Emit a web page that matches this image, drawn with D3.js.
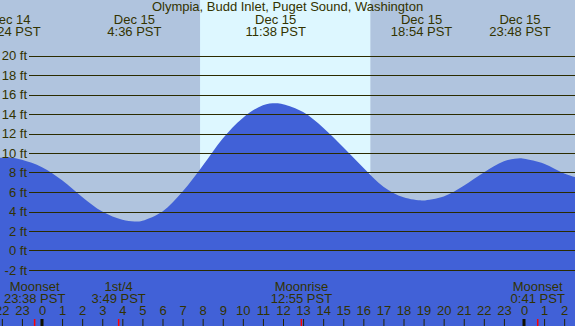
<!DOCTYPE html>
<html>
<head>
<meta charset="utf-8">
<script src="https://cdn.jsdelivr.net/npm/d3@7"></script>
<style>
  body { margin: 0; }
  text { font-family: "Liberation Sans", Arial, sans-serif; }
</style>
</head>
<body>
<script>
// tide chart for one day, hours counted from Dec 15 0:00

let width = 575;
let height = 326;

let title = "Olympia, Budd Inlet, Puget Sound, Washington";

// tide height (hour, ft)
let tideHours = [-2.1, -1.6, -1, 0, 1, 2, 3, 4, 4.6, 5, 6, 7, 8, 9, 10, 11, 11.63, 12, 13, 14, 15, 16, 17, 18, 18.9, 19, 20, 21, 22, 23, 23.8, 24, 25, 26, 26.6];
let tideFeet = [9.5, 9.55, 9.3, 8.55, 7.2, 5.5, 4.0, 3.15, 2.97, 3.05, 4.0, 6.05, 8.7, 11.5, 13.6, 14.9, 15.1, 15.0, 14.2, 12.6, 10.6, 8.5, 6.55, 5.45, 5.12, 5.13, 5.55, 6.65, 8.0, 9.15, 9.45, 9.4, 8.9, 7.9, 7.5];

// highs and lows
let extremeHours = [-1.6, 4.6, 11.633, 18.9, 23.8];
let extremeDays = ["Dec 14", "Dec 15", "Dec 15", "Dec 15", "Dec 15"];
let extremeTimes = ["22:24 PST", "4:36 PST", "11:38 PST", "18:54 PST", "23:48 PST"];

// daylight
let sunrise = 7.87;
let sunset = 16.35;

// moon
let moonHours = [-0.367, 3.817, 12.917, 24.683];
let moonNames = ["Moonset", "1st/4", "Moonrise", "Moonset"];
let moonTimes = ["23:38 PST", "3:49 PST", "12:55 PST", "0:41 PST"];

let feetTicks = d3.range(-2, 21, 2);
let hourTicks = d3.range(-2, 27);
let midnights = [0, 24];

let textColor = "#333300";

let x = d3.scaleLinear()
    .domain([0, 24])
    .range([42, 524]);

let y = d3.scaleLinear()
    .domain([-2, 20])
    .range([270, 55.5]);

let svg = d3.select("body")
    .append("svg")
    .attr("width", width)
    .attr("height", height);

// night background, then day
svg.append("rect")
    .attr("width", width)
    .attr("height", height)
    .attr("fill", "#b0c4de");

svg.append("rect")
    .attr("x", x(sunrise))
    .attr("width", x(sunset) - x(sunrise))
    .attr("height", height)
    .attr("fill", "#ddf7ff");

let area = d3.area()
    .x(function (d, i) { return x(tideHours[i]) })
    .y0(height)
    .y1(function (d) { return y(d) })
    .curve(d3.curveCatmullRom.alpha(0.5));

svg.append("path")
    .datum(tideFeet)
    .attr("d", area)
    .attr("fill", "#4161d7");

// grid lines and feet labels
svg.selectAll(".grid")
    .data(feetTicks)
    .enter()
    .append("line")
    .attr("x1", 29)
    .attr("x2", width)
    .attr("y1", function (d) { return Math.round(y(d)) + 0.5 })
    .attr("y2", function (d) { return Math.round(y(d)) + 0.5 })
    .attr("stroke", "#2b2b00")
    .attr("stroke-width", 1.2);

svg.selectAll(".ftlabel")
    .data(feetTicks)
    .enter()
    .append("text")
    .attr("x", 27)
    .attr("y", function (d) { return y(d) + 4.5 })
    .attr("text-anchor", "end")
    .attr("font-size", 13)
    .attr("fill", textColor)
    .text(function (d) { return d + " ft" });

svg.append("text")
    .attr("x", width / 2)
    .attr("y", 11)
    .attr("text-anchor", "middle")
    .attr("font-size", 13)
    .attr("fill", textColor)
    .text(title);

let tops = svg.selectAll(".extreme")
    .data(extremeHours)
    .enter()
    .append("g")
    .attr("transform", function (d) { return "translate(" + x(d) + ",0)" });

tops.append("text")
    .attr("y", 24)
    .attr("text-anchor", "middle")
    .attr("font-size", 13)
    .attr("fill", textColor)
    .text(function (d, i) { return extremeDays[i] });

tops.append("text")
    .attr("y", 35.5)
    .attr("text-anchor", "middle")
    .attr("font-size", 13)
    .attr("fill", textColor)
    .text(function (d, i) { return extremeTimes[i] });

// moon events
let moons = svg.selectAll(".moon")
    .data(moonHours)
    .enter()
    .append("g")
    .attr("transform", function (d) { return "translate(" + x(d) + ",0)" });

moons.append("text")
    .attr("y", 291)
    .attr("text-anchor", "middle")
    .attr("font-size", 13)
    .attr("fill", textColor)
    .text(function (d, i) { return moonNames[i] });

moons.append("text")
    .attr("y", 302.5)
    .attr("text-anchor", "middle")
    .attr("font-size", 13)
    .attr("fill", textColor)
    .text(function (d, i) { return moonTimes[i] });

// hour axis
let hourAxis = d3.axisTop(x)
    .tickValues(hourTicks)
    .tickSize(7)
    .tickPadding(4)
    .tickFormat(function (d) { return (d + 24) % 24 });

let axisG = svg.append("g")
    .attr("transform", "translate(0," + height + ")")
    .call(hourAxis);

axisG.select(".domain").remove();
axisG.selectAll("line").attr("stroke", "#222200");
axisG.selectAll("text")
    .attr("font-size", 13)
    .attr("font-family", "Liberation Sans, Arial, sans-serif")
    .attr("fill", textColor);

svg.selectAll(".moontick")
    .data(moonHours)
    .enter()
    .append("line")
    .attr("x1", function (d) { return x(d) })
    .attr("x2", function (d) { return x(d) })
    .attr("y1", 319)
    .attr("y2", height)
    .attr("stroke", "#ff0000")
    .attr("stroke-width", 1.5);

svg.selectAll(".midnight")
    .data(midnights)
    .enter()
    .append("rect")
    .attr("x", function (d) { return x(d) - 1.5 })
    .attr("y", 319)
    .attr("width", 3)
    .attr("height", 7)
    .attr("fill", "#111100");
</script>
</body>
</html>
